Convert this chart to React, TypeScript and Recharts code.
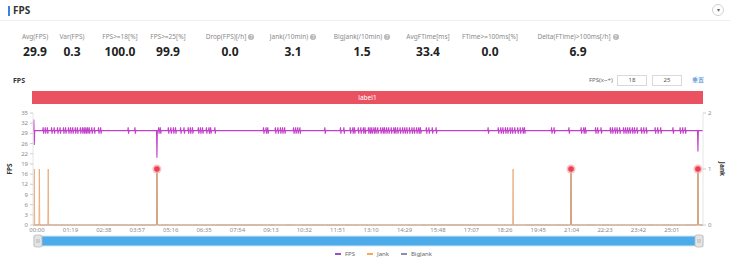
import React from "react";
import { Brush, ComposedChart, Line, XAxis, YAxis } from "recharts";

const metricLabels = [
  "Avg(FPS)",
  "Var(FPS)",
  "FPS>=18[%]",
  "FPS>=25[%]",
  "Drop(FPS)[/h]",
  "Jank(/10min)",
  "BigJank(/10min)",
  "AvgFTime[ms]",
  "FTime>=100ms[%]",
  "Delta(FTime)>100ms[/h]",
];
const metricValues = ["29.9", "0.3", "100.0", "99.9", "0.0", "3.1", "1.5", "33.4", "0.0", "6.9"];
const metricHasHint = [false, false, false, false, true, true, true, false, false, true];

const timeTickLabels = [
  "00:00", "01:19", "02:38", "03:57", "05:16", "06:35", "07:54", "09:13", "10:32", "11:51",
  "13:10", "14:29", "15:48", "17:07", "18:26", "19:45", "21:04", "22:23", "23:42", "25:01",
];
const fpsTickLabels = ["0", "3", "6", "9", "12", "16", "19", "22", "26", "29", "32", "35"];
const fpsMax = 35;
const jankTicks = [0, 1, 2];
const sessionEnd = 1584; // seconds

// fps sits a bit under 30 most of the time, swings by ~1 at these seconds
const fpsBase = 29.5;
const fpsSwingTimes = [
  24, 29, 34, 44, 50, 58, 64, 72, 77, 84, 89, 94, 100, 105, 112, 117, 121, 125, 129, 133,
  139, 145, 155, 160, 225, 241, 297, 301, 320, 326, 332, 337, 349, 357, 367, 372, 377,
  391, 396, 401, 410, 416, 420, 430, 545, 551, 555, 573, 579, 585, 590, 595, 616, 621,
  626, 631, 690, 727, 735, 750, 756, 760, 769, 775, 781, 785, 793, 797, 801, 806, 810,
  815, 822, 827, 831, 836, 841, 847, 853, 857, 862, 868, 874, 879, 884, 890, 896, 901,
  907, 912, 916, 930, 936, 944, 953, 1076, 1100, 1106, 1111, 1117, 1122, 1128, 1133,
  1139, 1146, 1152, 1158, 1162, 1226, 1232, 1267, 1296, 1302, 1306, 1330, 1335, 1343,
  1365, 1370, 1376, 1381, 1387, 1396, 1401, 1406, 1411, 1417, 1422, 1428, 1438, 1444,
  1450, 1471, 1477, 1484, 1513, 1530, 1536, 1542,
];
const fpsDips: [number, number][] = [
  [2, 33],
  [3, 25],
  [293, 21],
  [1572, 23],
];
const jankTimes = [3, 15, 36, 293, 1135, 1272, 1572];
const bigJankTimes = [293, 1272, 1572];

const series = [
  { key: "fps", name: "FPS", color: "#c23fc9", legend: "#9c4fc4" },
  { key: "jank", name: "Jank", color: "#e6a878", legend: "#f0a85a" },
  { key: "bigJank", name: "BigJank", color: "#9a8f9a", legend: "#8a90a6" },
];

type Row = { t: number; fps: number; jank: number; bigJank: number };

function buildRows() {
  const map = new Map<number, Row>();
  const at = (t: number) => {
    let r = map.get(t);
    if (!r) {
      r = { t, fps: fpsBase, jank: 0, bigJank: 0 };
      map.set(t, r);
    }
    return r;
  };
  at(0);
  at(sessionEnd);
  fpsSwingTimes.forEach((t) => {
    at(t - 1);
    at(t).fps = fpsBase + 1;
    at(t + 1).fps = fpsBase - 1;
    at(t + 2);
  });
  fpsDips.forEach(([t, v]) => {
    at(t - 1);
    at(t).fps = v;
    at(t + 1);
  });
  jankTimes.forEach((t) => {
    at(t - 1);
    at(t).jank = 1;
    at(t + 1);
  });
  bigJankTimes.forEach((t) => {
    at(t - 1);
    at(t).bigJank = 1;
    at(t + 1);
  });
  return Array.from(map.values()).sort((a, b) => a.t - b.t);
}

const rows = buildRows();
const tickSeconds = timeTickLabels.map((s) => {
  const [m, sec] = s.split(":").map(Number);
  return m * 60 + sec;
});
const fpsTickValues = fpsTickLabels.map((_, i) => (i * fpsMax) / (fpsTickLabels.length - 1));

const metricCenters = [35, 72, 120, 168, 230, 293, 362, 428, 490, 578];

const font = '"Noto Sans", "Noto Sans CJK SC", sans-serif';

function Hint() {
  return (
    <span
      style={{
        display: "inline-block",
        width: 6,
        height: 6,
        borderRadius: "50%",
        background: "#b8b8b8",
        color: "#fff",
        fontSize: 5,
        lineHeight: "6px",
        textAlign: "center",
        marginLeft: 2,
        verticalAlign: "middle",
      }}
    >
      ?
    </span>
  );
}

function BigJankDot(props: any) {
  const { cx, cy, payload, index } = props;
  if (!payload || payload.bigJank !== 1) return <g key={`bj-${index}`} />;
  return (
    <g key={`bj-${index}`}>
      <circle cx={cx} cy={cy} r={4.5} fill="#f6a7ad" fillOpacity={0.7} />
      <circle cx={cx} cy={cy} r={2.8} fill="#ec3f4f" />
    </g>
  );
}

function Traveller(props: any) {
  const { x, y, width, height } = props;
  return (
    <g>
      <rect x={x} y={y - 1} width={width} height={height + 2} rx={2} fill="#e4e4e4" stroke="#b9b9b9" strokeWidth={0.8} />
      <line x1={x + 3} x2={x + 3} y1={y + 3} y2={y + height - 3} stroke="#999" strokeWidth={0.6} />
      <line x1={x + 5} x2={x + 5} y1={y + 3} y2={y + height - 3} stroke="#999" strokeWidth={0.6} />
    </g>
  );
}

export default function App() {
  return (
    <div
      style={{
        position: "absolute",
        left: 0,
        top: 0,
        width: 730,
        height: 259,
        background: "#fff",
        fontFamily: font,
        overflow: "hidden",
      }}
    >
      {/* header */}
      <div style={{ position: "absolute", left: 8, top: 6, width: 2, height: 10, background: "#3b82e0" }} />
      <div style={{ position: "absolute", left: 13, top: 3, fontSize: 10, fontWeight: 700, color: "#333", lineHeight: "15px" }}>
        FPS
      </div>
      <div style={{ position: "absolute", left: 0, top: 20, width: 730, height: 1, background: "#efefef" }} />
      <div
        style={{
          position: "absolute",
          left: 712,
          top: 4,
          width: 12,
          height: 12,
          borderRadius: "50%",
          border: "1px solid #d0d0d0",
          boxSizing: "border-box",
          fontSize: 6,
          lineHeight: "10px",
          textAlign: "center",
          color: "#666",
        }}
      >
        ▾
      </div>

      {/* metrics */}
      {metricLabels.map((label, i) => (
        <div
          key={label}
          style={{
            position: "absolute",
            left: metricCenters[i] - 60,
            width: 120,
            top: 32,
            textAlign: "center",
            whiteSpace: "nowrap",
          }}
        >
          <div style={{ fontSize: 6.5, color: "#8a8a8a", lineHeight: "10px" }}>
            {label}
            {metricHasHint[i] && <Hint />}
          </div>
          <div style={{ fontSize: 12, fontWeight: 700, color: "#222", lineHeight: "16px", marginTop: 2 }}>
            {metricValues[i]}
          </div>
        </div>
      ))}

      {/* chart toolbar */}
      <div style={{ position: "absolute", left: 13, top: 76, fontSize: 7, fontWeight: 700, color: "#333" }}>FPS</div>
      <div style={{ position: "absolute", left: 589, top: 75, fontSize: 6, color: "#666", lineHeight: "11px" }}>FPS(x~+)</div>
      {["18", "25"].map((v, i) => (
        <div
          key={v}
          style={{
            position: "absolute",
            left: 617 + i * 35,
            top: 75,
            width: 30,
            height: 11,
            border: "1px solid #d9d9d9",
            boxSizing: "border-box",
            fontSize: 6,
            lineHeight: "9px",
            textAlign: "center",
            color: "#555",
          }}
        >
          {v}
        </div>
      ))}
      <div style={{ position: "absolute", left: 692, top: 75, fontSize: 6, color: "#3a7fd5", lineHeight: "11px" }}>重置</div>

      {/* label band */}
      <div
        style={{
          position: "absolute",
          left: 32,
          top: 91,
          width: 671,
          height: 13,
          background: "#ea5261",
          color: "#fff",
          fontSize: 6.5,
          lineHeight: "13px",
          textAlign: "center",
        }}
      >
        label1
      </div>

      <div style={{ position: "absolute", left: 0, top: 0 }}>
        <ComposedChart width={730} height={259} data={rows} margin={{ top: 113, right: 0, bottom: 10, left: 0 }}>
          <XAxis
            dataKey="t"
            type="number"
            domain={[0, sessionEnd]}
            ticks={tickSeconds}
            interval={0}
            allowDataOverflow
            tickFormatter={(v: number) => timeTickLabels[tickSeconds.indexOf(v)] ?? ""}
            tick={{ fontSize: 6, fill: "#8c8c8c", dx: 4, fontFamily: font }}
            tickLine={false}
            axisLine={false}
            tickSize={0}
            tickMargin={3}
            height={14}
          />
          <YAxis
            yAxisId="fps"
            width={33}
            domain={[0, fpsMax]}
            ticks={fpsTickValues}
            interval={0}
            allowDataOverflow
            tickFormatter={(v: number) => {
              const i = fpsTickValues.findIndex((x) => Math.abs(x - v) < 1e-6);
              return i >= 0 ? fpsTickLabels[i] : "";
            }}
            tick={{ fontSize: 6, fill: "#8c8c8c", fontFamily: font }}
            tickSize={3}
            tickLine={{ stroke: "#cfcfcf" }}
            axisLine={{ stroke: "#e6e6e6" }}
            label={{
              value: "FPS",
              angle: -90,
              position: "insideLeft",
              offset: 10,
              style: { textAnchor: "middle", fontSize: 6.5, fontWeight: 700, fill: "#333", fontFamily: font },
            }}
          />
          <YAxis
            yAxisId="jank"
            orientation="right"
            width={27}
            domain={[0, 2]}
            ticks={jankTicks}
            interval={0}
            tick={{ fontSize: 6, fill: "#8c8c8c", fontFamily: font }}
            tickSize={3}
            tickLine={{ stroke: "#cfcfcf" }}
            axisLine={{ stroke: "#e6e6e6" }}
            label={{
              value: "Jank",
              angle: 90,
              position: "insideRight",
              offset: 8,
              style: { textAnchor: "middle", fontSize: 6.5, fontWeight: 700, fill: "#333", fontFamily: font },
            }}
          />
          <Line
            yAxisId="jank"
            dataKey="bigJank"
            name="BigJank"
            type="linear"
            stroke={series[2].color}
            strokeWidth={1}
            dot={BigJankDot}
            activeDot={false}
            isAnimationActive={false}
          />
          <Line
            yAxisId="jank"
            dataKey="jank"
            name="Jank"
            type="linear"
            stroke={series[1].color}
            strokeOpacity={0.85}
            strokeWidth={1}
            dot={false}
            activeDot={false}
            isAnimationActive={false}
          />
          <Line
            yAxisId="fps"
            dataKey="fps"
            name="FPS"
            type="linear"
            stroke={series[0].color}
            strokeWidth={1.1}
            dot={false}
            activeDot={false}
            isAnimationActive={false}
          />
          <Brush
            dataKey="t"
            x={34}
            y={236}
            width={669}
            height={10}
            travellerWidth={8}
            fill="#2d9de6"
            stroke="#cfe7f8"
            traveller={(p: any) => <Traveller {...p} />}
            tickFormatter={() => ""}
          />
        </ComposedChart>
      </div>

      {/* legend */}
      <div
        style={{
          position: "absolute",
          left: 335,
          top: 249,
          display: "flex",
          gap: 12,
          fontSize: 6,
          color: "#666",
          lineHeight: "10px",
        }}
      >
        {series.map((s) => (
          <div key={s.key} style={{ display: "flex", alignItems: "center" }}>
            <span style={{ display: "inline-block", width: 6, height: 1.5, background: s.legend, marginRight: 4 }} />
            {s.name}
          </div>
        ))}
      </div>
    </div>
  );
}
